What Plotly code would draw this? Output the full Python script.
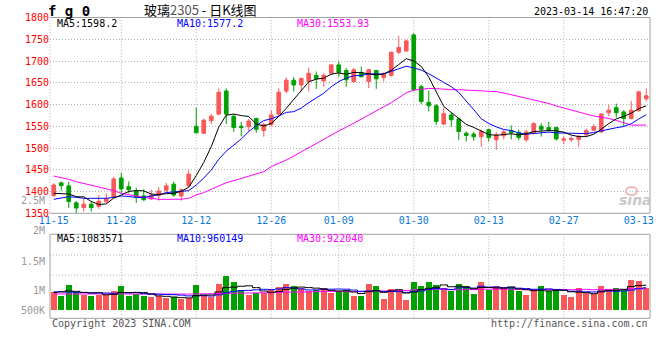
import plotly.graph_objects as go

# ---------------- data ----------------
dates = ["11-15","11-16","11-17","11-18","11-21","11-22","11-23","11-24","11-25","11-28",
         "11-29","11-30","12-01","12-02","12-05","12-06","12-07","12-08","12-09","12-12",
         "12-13","12-14","12-15","12-16","12-19","12-20","12-21","12-22","12-23","12-26",
         "12-27","12-28","12-29","12-30","01-03","01-04","01-05","01-06","01-09","01-10",
         "01-11","01-12","01-13","01-16","01-17","01-18","01-19","01-20","01-30","01-31",
         "02-01","02-02","02-03","02-06","02-07","02-08","02-09","02-10","02-13","02-14",
         "02-15","02-16","02-17","02-20","02-21","02-22","02-23","02-24","02-27","02-28",
         "03-01","03-02","03-03","03-06","03-07","03-08","03-09","03-10","03-13","03-14"]

opens = [1391,1420,1413,1374,1363,1371,1366,1377,1387,1431,
         1411,1402,1390,1383,1391,1403,1417,1390,1413,1550,
         1534,1563,1578,1631,1573,1550,1549,1568,1540,1554,
         1578,1631,1656,1645,1653,1667,1654,1672,1691,1678,
         1653,1674,1653,1678,1662,1667,1720,1723,1760,1641,
         1605,1597,1555,1576,1567,1534,1532,1526,1542,1519,
         1528,1540,1536,1519,1535,1550,1547,1547,1518,1519,
         1520,1530,1541,1537,1581,1593,1583,1568,1586,1613]
highs = [1419,1423,1423,1378,1383,1378,1392,1396,1434,1443,
         1423,1409,1405,1404,1410,1420,1423,1407,1449,1593,
         1567,1578,1637,1637,1578,1560,1567,1570,1558,1587,
         1637,1662,1663,1662,1685,1676,1672,1693,1699,1684,
         1684,1687,1680,1680,1674,1722,1758,1749,1764,1645,
         1632,1601,1593,1583,1570,1538,1537,1542,1544,1537,
         1542,1552,1542,1542,1560,1557,1560,1549,1527,1527,
         1530,1545,1555,1580,1599,1602,1587,1608,1632,1637]
lows = [1387,1402,1362,1349,1354,1354,1360,1373,1384,1396,
        1396,1374,1379,1381,1379,1396,1388,1379,1411,1534,
        1532,1555,1575,1555,1537,1527,1539,1535,1526,1549,
        1572,1626,1630,1630,1630,1636,1641,1668,1664,1641,
        1649,1662,1638,1636,1653,1664,1716,1722,1630,1601,
        1584,1553,1553,1549,1518,1515,1517,1503,1515,1496,
        1520,1520,1518,1514,1531,1526,1537,1517,1509,1514,
        1503,1526,1539,1535,1573,1570,1550,1566,1583,1607]
closes = [1415,1413.5,1377,1362,1371,1363,1378,1384,1429,1406,
          1404,1388,1381,1392,1401,1413,1392,1404,1440,1535,
          1564,1573,1628,1578,1547,1547,1562,1543,1554,1576,
          1628,1656,1645,1660,1672,1659,1667,1691,1674,1657,
          1680,1664,1680,1659,1670,1720,1731,1746,1634,1607,
          1597,1561,1579,1565,1538,1529,1526,1538,1524,1530,
          1537,1535,1524,1537,1556,1543,1541,1521,1521,1522,
          1527,1540,1549,1578,1587,1581,1568,1587,1629,1620]
volumes = [764000,595000,1089000,764000,665000,623000,665000,665000,835000,1047000,
           623000,708000,623000,566000,623000,524000,566000,482000,524000,1089000,
           665000,566000,1131000,1442000,1188000,849000,665000,736000,736000,920000,
           990000,1131000,1018000,948000,806000,877000,948000,736000,806000,849000,
           623000,623000,1131000,1018000,496000,920000,877000,439000,1216000,1018000,
           1188000,1089000,948000,835000,1131000,1018000,708000,1216000,849000,1047000,
           948000,977000,806000,665000,849000,1047000,835000,920000,665000,552000,
           948000,736000,708000,1047000,877000,962000,920000,1301000,1258000,948000]

# moving-average values before enough bars exist
ma5_head = [1395.9, 1395.9, 1394.4, 1388.2]
ma10_head = [1382.1, 1385.9, 1388.2, 1386.7, 1384.4, 1384.4, 1384.4, 1384.4, 1386.7]
ma30_head = [1435.7, 1432.6, 1428.0, 1422.7, 1418.9, 1415.0, 1411.2, 1407.4, 1402.0, 1395.9,
             1392.0, 1389.8, 1386.7, 1384.4, 1382.1, 1382.1, 1382.1, 1382.5, 1384.4, 1392.1,
             1397.4, 1405.1, 1412.7, 1420.4, 1425.0, 1430.3, 1435.7, 1440.3, 1445.6]
vma5_head = [770000, 800000, 840000, 820000]
vma10_head = [800000, 800000, 790000, 780000, 770000, 760000, 750000, 750000, 740000]
vma30_head = [710000, 710000, 710000, 710000, 710000, 710000, 710000, 710000, 710000, 710000,
              710000, 710000, 705000, 705000, 705000, 705000, 705000, 705000, 705000, 710000,
              715000, 720000, 725000, 735000, 740000, 745000, 750000, 755000, 760000]

tick_dates = ["11-15","11-28","12-12","12-26","01-09","01-30","02-13","02-27","03-13"]
price_ticks = [1350,1400,1450,1500,1550,1600,1650,1700,1750,1800]

# ---------------- helpers ----------------
def moving_average(values, n, head):
    out = list(head)
    for i in range(len(head), len(values)):
        out.append(sum(values[i - n + 1:i + 1]) / n)
    return out

W, H = 660, 360
def px(x): return x / W
def py(y): return 1 - y / H

MONO = "DejaVu Sans Mono"
RED = "#f85858"
GREEN = "#00a000"

idx = list(range(len(dates)))
ma5 = moving_average(closes, 5, ma5_head)
ma10 = moving_average(closes, 10, ma10_head)
ma30 = moving_average(closes, 30, ma30_head)
vma5 = moving_average(volumes, 5, vma5_head)
vma10 = moving_average(volumes, 10, vma10_head)
vma30 = moving_average(volumes, 30, vma30_head)

fig = go.Figure()
fig.add_trace(go.Candlestick(
    x=idx, open=opens, high=highs, low=lows, close=closes,
    increasing=dict(line=dict(color=RED, width=1), fillcolor=RED),
    decreasing=dict(line=dict(color=GREEN, width=1), fillcolor=GREEN),
    whiskerwidth=0, xaxis="x", yaxis="y", showlegend=False, hoverinfo="skip"))
for vals, col in [(ma30, "#ff00ff"), (ma10, "#0000ff"), (ma5, "#000000")]:
    fig.add_trace(go.Scatter(x=idx, y=vals, mode="lines", line=dict(color=col, width=1),
                             xaxis="x", yaxis="y", showlegend=False, hoverinfo="skip"))

bar_colors = [RED if c >= o else GREEN for o, c in zip(opens, closes)]
fig.add_trace(go.Bar(x=idx, y=volumes, marker=dict(color=bar_colors, line=dict(width=0)),
                     width=0.8, xaxis="x2", yaxis="y2", showlegend=False, hoverinfo="skip"))
for vals, col in [(vma30, "#ff00ff"), (vma10, "#0000ff"), (vma5, "#000000")]:
    fig.add_trace(go.Scatter(x=idx, y=vals, mode="lines", line=dict(color=col, width=1, shape="hvh"),
                             xaxis="x2", yaxis="y2", showlegend=False, hoverinfo="skip"))

x_dom = [px(50), px(650)]
p_top, p_bot = 17.5, 213.3
v_top, v_bot = 234.3, 318.3
v_base = 310.7
v_scale = 23.6 / 1e6   # px per unit volume

tick_idx = [dates.index(d) for d in tick_dates]

fig.update_layout(
    width=W, height=H, margin=dict(l=0, r=0, t=0, b=0, autoexpand=False),
    paper_bgcolor="white", plot_bgcolor="white",
    bargap=0,
    xaxis=dict(domain=x_dom, range=[-0.5, len(dates) - 0.5], anchor="y", automargin=False,
               tickmode="array", tickvals=tick_idx, ticktext=tick_dates,
               tickfont=dict(family=MONO, size=10, color="#0a7ad6"),
               showgrid=False, zeroline=False, showline=False, ticks="",
               rangeslider=dict(visible=False)),
    xaxis2=dict(domain=x_dom, matches="x", anchor="y2", showticklabels=False, automargin=False,
                showgrid=False, zeroline=False, showline=False, ticks=""),
    yaxis=dict(domain=[py(p_bot), py(p_top)], range=[1350, 1800], anchor="x", automargin=False,
               tickmode="array", tickvals=price_ticks,
               tickfont=dict(family=MONO, size=10, color="#ff0000"),
               showgrid=True, gridcolor="#b0b0b0", griddash="1px,2px", gridwidth=1,
               zeroline=False, showline=False, ticks=""),
    yaxis2=dict(domain=[py(v_bot), py(v_top)], automargin=False,
                range=[-(v_bot - v_base) / v_scale, (v_base - v_top) / v_scale], anchor="x2",
                showticklabels=False, showgrid=False, zeroline=False, showline=False, ticks=""),
)

shapes = []
dot = dict(color="#b0b0b0", width=1, dash="1px,2px")
for d in tick_dates[1:-1]:
    xi = dates.index(d)
    shapes.append(dict(type="line", xref="x", yref="paper", x0=xi, x1=xi,
                       y0=py(p_bot), y1=py(p_top), line=dot, layer="below"))
    shapes.append(dict(type="line", xref="x", yref="paper", x0=xi, x1=xi,
                       y0=py(v_bot), y1=py(v_top), line=dot, layer="below"))
for yy in [255, 275]:
    shapes.append(dict(type="line", xref="paper", yref="paper", x0=px(50), x1=px(650),
                       y0=py(yy), y1=py(yy), line=dot, layer="below"))
border = dict(color="#a0a0a0", width=1)
for top, bot in [(p_top, p_bot), (v_top, v_bot)]:
    shapes.append(dict(type="line", xref="paper", yref="paper", x0=px(50), x1=px(650),
                       y0=py(top), y1=py(top), line=border))
    shapes.append(dict(type="line", xref="paper", yref="paper", x0=px(50), x1=px(650),
                       y0=py(bot), y1=py(bot), line=border))
    shapes.append(dict(type="line", xref="paper", yref="paper", x0=px(650), x1=px(650),
                       y0=py(bot), y1=py(top), line=border))
shapes.append(dict(type="line", xref="paper", yref="paper", x0=px(50), x1=px(50),
                   y0=py(p_bot), y1=py(p_top), line=dot))
shapes.append(dict(type="line", xref="paper", yref="paper", x0=px(50), x1=px(50),
                   y0=py(v_bot), y1=py(v_top), line=border))
# sina logo eye
shapes.append(dict(type="circle", xref="paper", yref="paper", x0=px(626), x1=px(637),
                   y0=py(195), y1=py(187), line=dict(color="#f4b8b8", width=2)))
fig.update_layout(shapes=shapes)

ann = []
def text(x, y, s, color="#000", size=10, xanchor="left", family=MONO, **kw):
    ann.append(dict(x=px(x), y=py(y), xref="paper", yref="paper", text=s, showarrow=False,
                    xanchor=xanchor, yanchor="middle", font=dict(family=family, size=size, color=color), **kw))

text(46, 10.5, "<b>f g 0</b>", size=14)
text(200, 9.5, '玻璃<span style="color:#555">2305</span> - 日K线图', size=13,
     xanchor="center", family="Noto Sans CJK SC")
text(650, 11, "2023-03-14 16:47:20", xanchor="right")
text(55, 24, "MA5:1598.2", color="#000000")
text(175, 24, "MA10:1577.2", color="#0000ff")
text(295, 24, "MA30:1553.93", color="#ff00ff")
text(55, 238.5, "MA5:1083571", color="#000000")
text(175, 238.5, "MA10:960149", color="#0000ff")
text(295, 238.5, "MA30:922040", color="#ff00ff")
for lab, yy in [("2.5M", 200.5), ("2M", 230.7), ("1.5M", 261), ("1M", 290.7), ("500K", 310.7)]:
    text(47, yy, lab, color="#999999", xanchor="right")
text(50, 323.5, "Copyright 2023 SINA.COM", color="#555555")
text(650, 323.5, "http://finance.sina.com.cn", color="#555555", xanchor="right")
text(635, 200, "<b><i>sina</i></b>", color="#c8c8c8", size=14, xanchor="center", family="DejaVu Sans")
fig.update_layout(annotations=ann)

fig.write_html("out.html", config={"displayModeBar": False},
               post_script="document.body.style.margin='0';document.body.style.padding='0';")
